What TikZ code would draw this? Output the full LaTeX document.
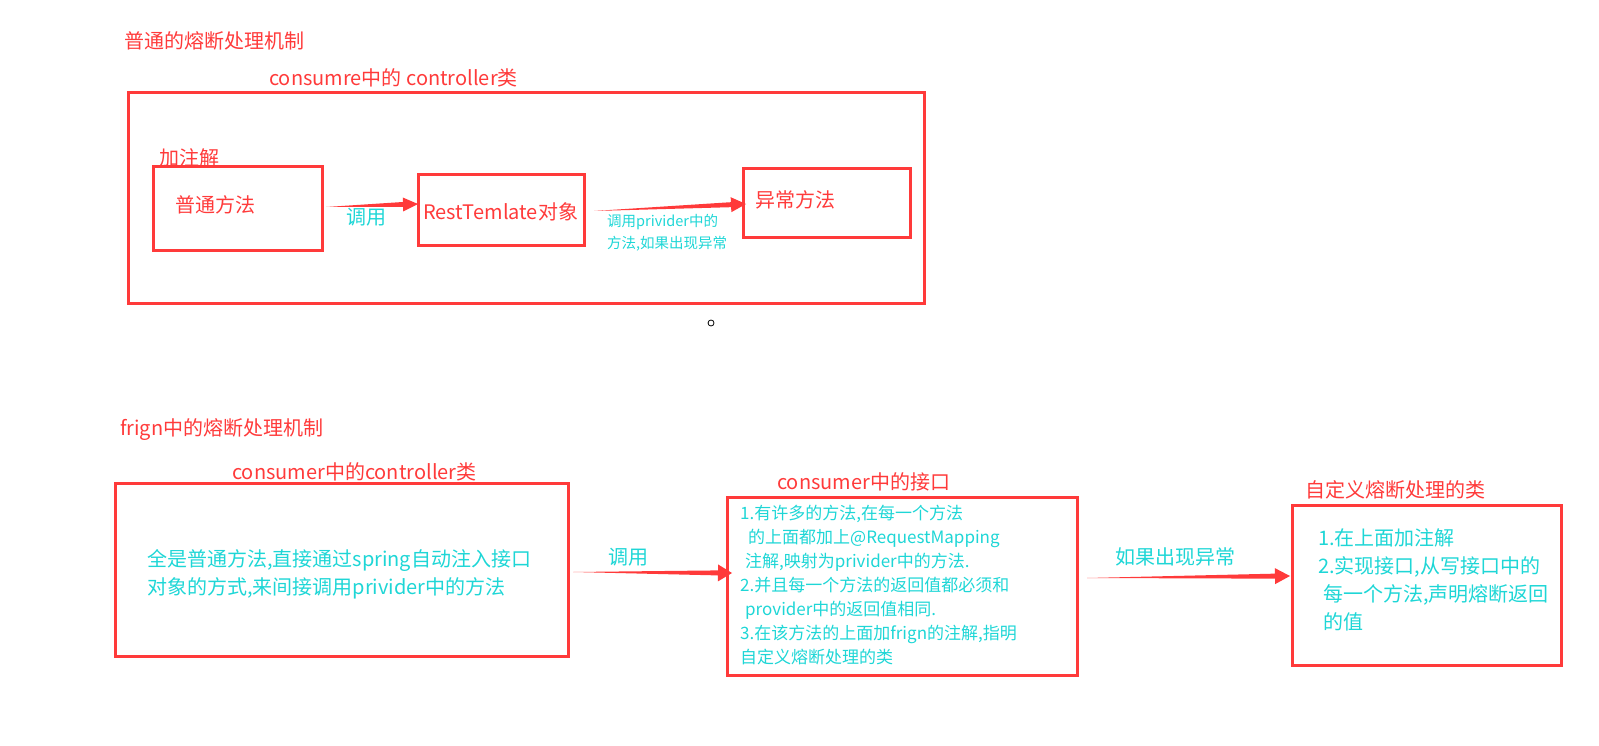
\documentclass[tikz,border=0pt]{standalone}
\usepackage{fontspec}
\setmainfont{Noto Sans CJK SC}
\usetikzlibrary{calc}
\definecolor{rd}{RGB}{255,58,58}
\definecolor{cy}{RGB}{30,214,214}
\tikzset{
  box/.style={draw=rd, line width=3pt, rectangle, inner sep=0pt, outer sep=0pt},
  rlab/.style={text=rd, anchor=west, inner sep=0pt, font=\fontsize{20}{24}\selectfont},
  clab/.style={text=cy, anchor=west, inner sep=0pt, font=\fontsize{20}{24}\selectfont},
}
\newcommand\taperarrow[4]{% tail, tip, head length, head half width
  \coordinate (tb) at ($(#2)!#3!(#1)$);
  \fill[rd] (#1) -- ($(tb)!2.5pt!90:(#2)$) -- ($(tb)!#4!90:(#2)$) -- (#2)
    -- ($(tb)!#4!-90:(#2)$) -- ($(tb)!2.5pt!-90:(#2)$) -- cycle;}
\begin{document}
\begin{tikzpicture}[x=1pt,y=-1pt]
\useasboundingbox (0,0) rectangle (1599,746);
% ---------- top part ----------
\node[rlab] (title1) at (124,41) {普通的熔断处理机制};
\node[rlab] (ctl1) at (269,78) {consumre中的 controller类};
\node[box, minimum width=796pt, minimum height=210pt] (big) at (526,198) {};
\node[rlab] (anno) at (159,158) {加注解};
\node[box, minimum width=169pt, minimum height=84pt] (pm) at (237.5,209) {};
\node[rlab] (pmt) at (175,205) {普通方法};
\node[box, minimum width=166pt, minimum height=71pt] (rt) at (501,210.5) {};
\node[rlab] (rtt) at (423,212) {RestTemlate对象};
\node[box, minimum width=167pt, minimum height=69pt] (ex) at (826.5,203.5) {};
\node[rlab] (ext) at (755,200) {异常方法};
\node[clab] (call1) at (346,217) {调用};
\node[clab, align=left, font=\fontsize{14.5}{22}\selectfont] (call2) at (607,233) {调用privider中的\\方法,如果出现异常};
\coordinate (a1s) at ($(pm.east)+(4,-2)$);
\coordinate (a1e) at ($(rt.west)+(0,-6.5)$);
\taperarrow{a1s}{a1e}{15pt}{7pt}
\coordinate (a2s) at ($(rt.east)+(10,0.5)$);
\coordinate (a2e) at ($(ex.west)+(3,0.5)$);
\taperarrow{a2s}{a2e}{15pt}{7.5pt}
\node[draw=black, line width=0.8pt, circle, minimum size=6pt, inner sep=0pt] (dot) at (711,323) {};
% ---------- bottom part ----------
\node[rlab] (title2) at (120,430) {frign中的熔断处理机制};
\node[rlab] (ctl2) at (232,472) {consumer中的controller类};
\node[box, minimum width=453pt, minimum height=173pt] (b1) at (341.5,569.5) {};
\node[clab, align=left, font=\fontsize{20}{28}\selectfont] (b1t) at (147,574) {全是普通方法,直接通过spring自动注入接口\\对象的方式,来间接调用privider中的方法};
\node[rlab] (ifc) at (777,482) {consumer中的接口};
\node[box, minimum width=350pt, minimum height=178pt] (b2) at (902,586) {};
\node[clab, align=left, font=\fontsize{17}{24}\selectfont] (b2t) at (740,585) {1.有许多的方法,在每一个方法\\\hspace*{8pt}的上面都加上@RequestMapping\\\hspace*{5pt}注解,映射为privider中的方法.\\2.并且每一个方法的返回值都必须和\\\hspace*{5pt}provider中的返回值相同.\\3.在该方法的上面加frign的注解,指明\\自定义熔断处理的类};
\node[clab] (call3) at (608,557) {调用};
\coordinate (a3s) at ($(b1.east)+(5,2.5)$);
\coordinate (a3e) at ($(b2.west)+(5,-13)$);
\taperarrow{a3s}{a3e}{14pt}{8.5pt}
\node[rlab] (fb) at (1305,490) {自定义熔断处理的类};
\node[box, minimum width=269pt, minimum height=160pt] (b3) at (1426.5,585) {};
\node[clab, align=left, font=\fontsize{20}{28}\selectfont] (b3t) at (1318,580) {1.在上面加注解\\2.实现接口,从写接口中的\\\hspace*{5pt}每一个方法,声明熔断返回\\\hspace*{5pt}的值};
\node[clab] (exc) at (1115,557) {如果出现异常};
\coordinate (a4s) at ($(b2.east)+(10,-8)$);
\coordinate (a4e) at ($(b3.west)+(-2,-9)$);
\taperarrow{a4s}{a4e}{15pt}{8pt}
\end{tikzpicture}
\end{document}
